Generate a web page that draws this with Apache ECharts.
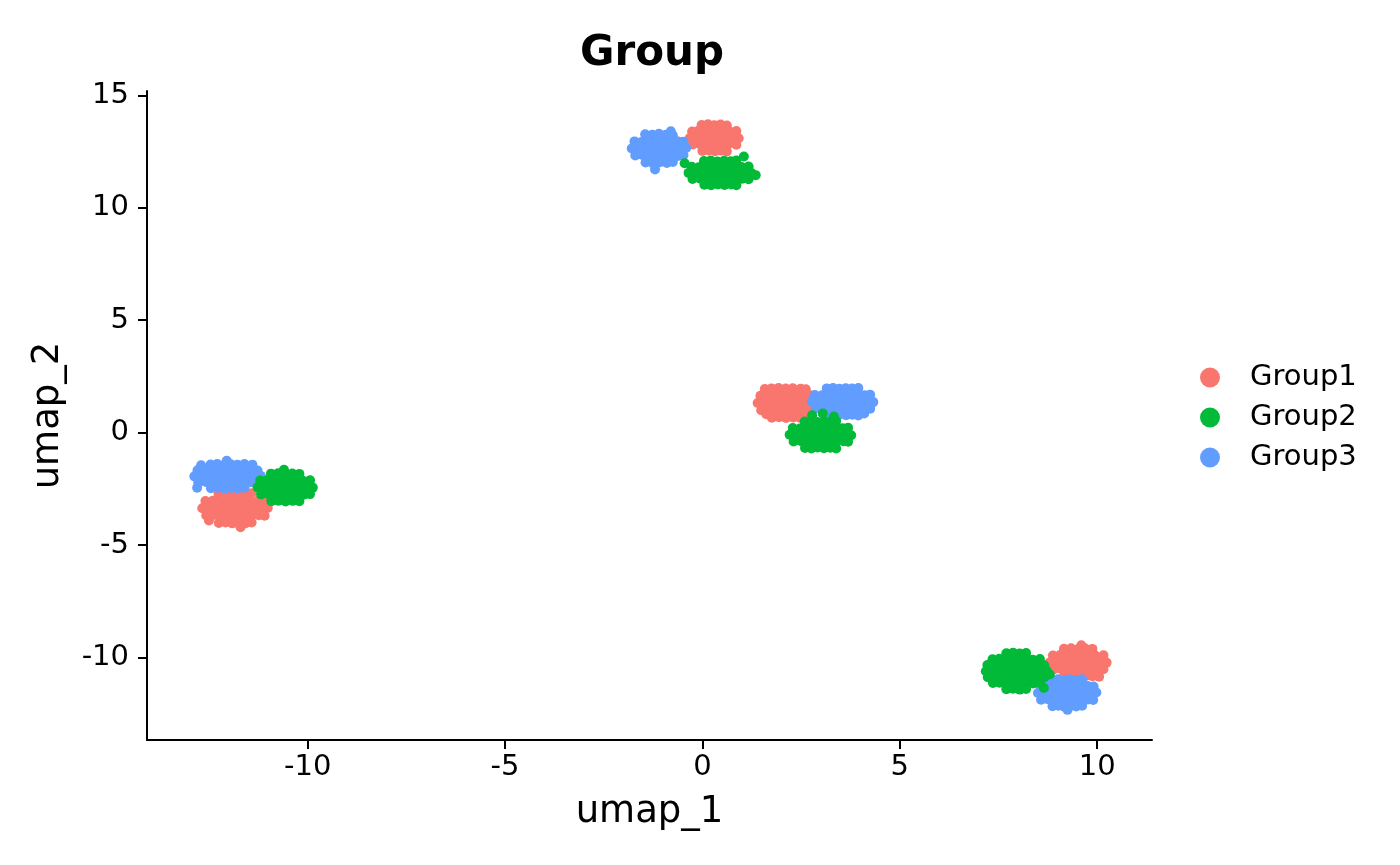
<!DOCTYPE html>
<html>
<head>
<meta charset="utf-8">
<script src="https://cdn.jsdelivr.net/npm/echarts@6.0.0/dist/echarts.min.js"></script>
<style>
  html, body { margin: 0; padding: 0; background: #fff; }
  #umap { width: 1400px; height: 865px; }
</style>
</head>
<body>
<div id="umap"></div>
<script>
// group names + ggplot default hues
const groupNames = ["Group1", "Group2", "Group3"];
const groupColors = ["#F8766D", "#00BA38", "#619CFF"];

// tick labels on both axes
const xTicks = [-10, -5, 0, 5, 10];
const yTicks = [-10, -5, 0, 5, 10, 15];

// cells, one array per cluster
const g1Top = [
  [-0.02,13.68],[0.14,13.71],[0.30,13.67],[0.46,13.70],[0.62,13.66],
  [-0.26,13.39],[-0.10,13.42],[0.06,13.38],[0.22,13.41],[0.38,13.37],[0.54,13.40],[0.70,13.38],[0.86,13.41],
  [-0.32,13.10],[-0.14,13.08],[0.04,13.12],[0.22,13.09],[0.40,13.11],[0.58,13.08],[0.76,13.12],[0.92,13.09],
  [-0.24,12.81],[-0.06,12.83],[0.12,12.79],[0.30,12.82],[0.48,12.80],[0.66,12.83],[0.86,12.80],
  [0.00,12.52],[0.16,12.55],[0.32,12.51],[0.48,12.54],[0.62,12.50],
  [-0.55,12.70],[-0.62,12.95]
];
const g1Mid = [
  [1.58,1.94],[1.75,1.97],[1.93,1.99],[2.11,1.96],[2.29,1.98],[2.49,1.95],[2.62,1.93],
  [1.47,1.64],[1.65,1.66],[1.83,1.62],[2.01,1.65],[2.19,1.63],[2.37,1.66],[2.55,1.62],[2.77,1.65],
  [1.40,1.32],[1.58,1.30],[1.76,1.34],[1.94,1.31],[2.12,1.33],[2.30,1.30],[2.48,1.34],[2.66,1.31],[2.84,1.33],
  [1.49,1.00],[1.67,1.02],[1.85,0.98],[2.03,1.01],[2.21,0.99],[2.39,1.02],[2.57,0.98],[2.77,1.01],
  [1.76,0.67],[1.94,0.69],[2.12,0.65],[2.30,0.68],[2.48,0.66],
  [1.62,0.82],[2.62,0.80]
];
const g1Left = [
  [-12.26,-2.71],[-12.09,-2.69],[-11.92,-2.73],[-11.75,-2.70],[-11.58,-2.72],[-11.42,-2.69],
  [-12.59,-3.04],[-12.40,-3.02],[-12.21,-3.06],[-12.02,-3.03],[-11.83,-3.05],[-11.64,-3.02],[-11.45,-3.06],[-11.26,-3.03],[-11.09,-3.05],
  [-12.67,-3.36],[-12.48,-3.34],[-12.29,-3.38],[-12.10,-3.35],[-11.91,-3.37],[-11.72,-3.34],[-11.53,-3.38],[-11.34,-3.35],[-11.15,-3.37],[-11.01,-3.34],
  [-12.57,-3.68],[-12.38,-3.66],[-12.19,-3.70],[-12.00,-3.67],[-11.81,-3.69],[-11.62,-3.66],[-11.43,-3.70],[-11.24,-3.67],[-11.09,-3.69],
  [-12.25,-4.01],[-12.08,-3.99],[-11.91,-4.03],[-11.74,-4.00],[-11.57,-4.02],[-11.42,-3.99],
  [-11.70,-4.20],[-12.50,-3.90]
];
const g1Bottom = [
  [9.16,-9.60],[9.34,-9.58],[9.52,-9.62],[9.70,-9.59],[9.88,-9.61],
  [8.88,-9.90],[9.06,-9.88],[9.24,-9.92],[9.42,-9.89],[9.60,-9.91],[9.78,-9.88],[9.96,-9.92],[10.16,-9.89],
  [8.80,-10.21],[8.98,-10.19],[9.16,-10.23],[9.34,-10.20],[9.52,-10.22],[9.70,-10.19],[9.88,-10.23],[10.06,-10.20],[10.24,-10.22],
  [8.90,-10.52],[9.08,-10.50],[9.26,-10.54],[9.44,-10.51],[9.62,-10.53],[9.80,-10.50],[9.98,-10.54],[10.16,-10.51],
  [9.17,-10.82],[9.35,-10.80],[9.53,-10.84],[9.71,-10.81],[9.88,-10.83],
  [9.60,-9.45],[10.05,-10.85]
];

const g2Top = [
  [0.04,12.08],[0.21,12.10],[0.38,12.06],[0.55,12.09],[0.72,12.07],[0.86,12.10],
  [-0.27,11.82],[-0.09,11.80],[0.09,11.84],[0.27,11.81],[0.45,11.83],[0.63,11.80],[0.81,11.84],[0.99,11.81],[1.17,11.83],
  [-0.35,11.55],[-0.17,11.53],[0.01,11.57],[0.19,11.54],[0.37,11.56],[0.55,11.53],[0.73,11.57],[0.91,11.54],[1.09,11.56],[1.25,11.53],
  [-0.25,11.28],[-0.07,11.30],[0.11,11.26],[0.29,11.29],[0.47,11.27],[0.65,11.30],[0.83,11.26],[1.01,11.29],[1.17,11.27],
  [0.05,11.02],[0.22,11.00],[0.39,11.04],[0.56,11.01],[0.73,11.03],[0.86,11.00],
  [1.35,11.45],[1.05,12.28],[-0.45,11.98]
];
const g2Mid = [
  [2.59,0.50],[2.75,0.52],[2.91,0.48],[3.07,0.51],[3.23,0.49],[3.39,0.52],
  [2.29,0.21],[2.47,0.19],[2.65,0.23],[2.83,0.20],[3.01,0.22],[3.19,0.19],[3.37,0.23],[3.55,0.20],[3.69,0.22],
  [2.21,-0.09],[2.39,-0.11],[2.57,-0.07],[2.75,-0.10],[2.93,-0.08],[3.11,-0.11],[3.29,-0.07],[3.47,-0.10],[3.65,-0.08],[3.77,-0.11],
  [2.31,-0.39],[2.49,-0.37],[2.67,-0.41],[2.85,-0.38],[3.03,-0.40],[3.21,-0.37],[3.39,-0.41],[3.57,-0.38],[3.69,-0.40],
  [2.60,-0.68],[2.76,-0.70],[2.92,-0.66],[3.08,-0.69],[3.24,-0.67],[3.39,-0.70],
  [2.78,0.78],[3.05,0.85],[3.33,0.72]
];
const g2Left = [
  [-10.93,-1.82],[-10.75,-1.80],[-10.57,-1.84],[-10.39,-1.81],[-10.21,-1.83],
  [-11.20,-2.12],[-11.02,-2.10],[-10.84,-2.14],[-10.66,-2.11],[-10.48,-2.13],[-10.30,-2.10],[-10.12,-2.14],[-9.94,-2.11],
  [-11.27,-2.43],[-11.09,-2.41],[-10.91,-2.45],[-10.73,-2.42],[-10.55,-2.44],[-10.37,-2.41],[-10.19,-2.45],[-10.01,-2.42],[-9.87,-2.44],
  [-11.18,-2.74],[-11.00,-2.72],[-10.82,-2.76],[-10.64,-2.73],[-10.46,-2.75],[-10.28,-2.72],[-10.10,-2.76],[-9.94,-2.73],
  [-10.92,-3.04],[-10.74,-3.02],[-10.56,-3.06],[-10.38,-3.03],[-10.21,-3.05],
  [-10.60,-1.65]
];
const g2Bottom = [
  [7.70,-9.80],[7.87,-9.78],[8.04,-9.82],[8.20,-9.79],
  [7.35,-10.07],[7.52,-10.05],[7.69,-10.09],[7.86,-10.06],[8.03,-10.08],[8.20,-10.05],[8.37,-10.09],[8.55,-10.06],
  [7.22,-10.33],[7.40,-10.31],[7.58,-10.35],[7.76,-10.32],[7.94,-10.34],[8.12,-10.31],[8.30,-10.35],[8.48,-10.32],[8.66,-10.34],
  [7.18,-10.60],[7.36,-10.58],[7.54,-10.62],[7.72,-10.59],[7.90,-10.61],[8.08,-10.58],[8.26,-10.62],[8.44,-10.59],[8.62,-10.61],[8.72,-10.58],
  [7.23,-10.87],[7.41,-10.85],[7.59,-10.89],[7.77,-10.86],[7.95,-10.88],[8.13,-10.85],[8.31,-10.89],[8.49,-10.86],[8.66,-10.88],
  [7.36,-11.13],[7.53,-11.11],[7.70,-11.15],[7.87,-11.12],[8.04,-11.14],[8.21,-11.11],[8.38,-11.15],[8.54,-11.12],
  [7.70,-11.40],[7.87,-11.38],[8.04,-11.42],[8.20,-11.39],
  [8.80,-10.75],[8.65,-11.35]
];

const g3Top = [
  [-1.45,13.27],[-1.27,13.24],[-1.10,13.29],[-0.92,13.25],[-0.75,13.22],
  [-1.72,12.95],[-1.54,12.92],[-1.36,12.97],[-1.18,12.93],[-1.00,12.96],[-0.82,12.91],[-0.64,12.95],[-0.48,12.93],
  [-1.79,12.63],[-1.61,12.60],[-1.43,12.66],[-1.25,12.62],[-1.07,12.64],[-0.89,12.61],[-0.71,12.65],[-0.53,12.62],[-0.41,12.66],
  [-1.70,12.32],[-1.52,12.35],[-1.34,12.30],[-1.16,12.33],[-0.98,12.31],[-0.80,12.34],[-0.62,12.30],[-0.48,12.33],
  [-1.44,12.01],[-1.26,11.98],[-1.08,12.02],[-0.90,11.99],[-0.75,12.03],
  [-1.20,11.70],[-0.80,13.40]
];
const g3Mid = [
  [3.15,1.97],[3.31,1.99],[3.47,1.95],[3.63,1.98],[3.79,1.96],[3.95,1.99],
  [2.85,1.68],[3.03,1.66],[3.21,1.70],[3.39,1.67],[3.57,1.69],[3.75,1.66],[3.93,1.70],[4.11,1.67],[4.25,1.69],
  [2.77,1.38],[2.95,1.36],[3.13,1.40],[3.31,1.37],[3.49,1.39],[3.67,1.36],[3.85,1.40],[4.03,1.37],[4.21,1.39],[4.33,1.36],
  [2.87,1.08],[3.05,1.10],[3.23,1.06],[3.41,1.09],[3.59,1.07],[3.77,1.10],[3.95,1.06],[4.13,1.09],[4.25,1.07],
  [3.16,0.79],[3.32,0.77],[3.48,0.81],[3.64,0.78],[3.80,0.80],[3.95,0.77],
  [4.10,0.85]
];
const g3Left = [
  [-12.70,-1.45],[-11.40,-1.42],
  [-12.46,-1.41],[-12.29,-1.39],[-12.12,-1.43],[-11.95,-1.40],[-11.78,-1.42],[-11.60,-1.39],
  [-12.79,-1.67],[-12.60,-1.65],[-12.41,-1.69],[-12.22,-1.66],[-12.03,-1.68],[-11.84,-1.65],[-11.65,-1.69],[-11.46,-1.66],[-11.27,-1.68],
  [-12.87,-1.94],[-12.68,-1.92],[-12.49,-1.96],[-12.30,-1.93],[-12.11,-1.95],[-11.92,-1.92],[-11.73,-1.96],[-11.54,-1.93],[-11.35,-1.95],[-11.19,-1.92],
  [-12.77,-2.21],[-12.58,-2.19],[-12.39,-2.23],[-12.20,-2.20],[-12.01,-2.22],[-11.82,-2.19],[-11.63,-2.23],[-11.44,-2.20],[-11.27,-2.22],
  [-12.45,-2.47],[-12.28,-2.45],[-12.11,-2.49],[-11.94,-2.46],[-11.77,-2.48],[-11.60,-2.45],
  [-12.05,-1.25],[-12.80,-2.45]
];
const g3Bottom = [
  [8.86,-10.98],[9.01,-10.96],[9.16,-11.00],[9.31,-10.97],[9.46,-10.99],[9.62,-10.96],
  [8.57,-11.27],[8.74,-11.25],[8.91,-11.29],[9.08,-11.26],[9.25,-11.28],[9.42,-11.25],[9.59,-11.29],[9.76,-11.26],[9.91,-11.28],
  [8.50,-11.57],[8.67,-11.55],[8.84,-11.59],[9.01,-11.56],[9.18,-11.58],[9.35,-11.55],[9.52,-11.59],[9.69,-11.56],[9.86,-11.58],[9.98,-11.55],
  [8.58,-11.87],[8.75,-11.85],[8.92,-11.89],[9.09,-11.86],[9.26,-11.88],[9.43,-11.85],[9.60,-11.89],[9.77,-11.86],[9.90,-11.88],
  [8.87,-12.16],[9.02,-12.14],[9.17,-12.18],[9.32,-12.15],[9.47,-12.17],[9.62,-12.14],
  [9.25,-12.32]
];

const groupPoints = [
  g1Top.concat(g1Mid, g1Left, g1Bottom),
  g2Top.concat(g2Mid, g2Left, g2Bottom),
  g3Top.concat(g3Mid, g3Left, g3Bottom)
];

const fontFamily = "DejaVu Sans";

const axisCommon = {
  nameLocation: "middle",
  nameMoveOverlap: false,
  nameTextStyle: { fontSize: 37, color: "#000", fontFamily: fontFamily },
  splitLine: { show: false },
  axisLine: { show: true, onZero: false, lineStyle: { color: "#000", width: 2 } },
  axisTick: { show: true, inside: false, length: 9, lineStyle: { color: "#000", width: 2 } },
  axisLabel: { fontSize: 29, color: "#000", fontFamily: fontFamily }
};

// draw order: red, blue, then green on top
const drawOrder = [0, 2, 1];

const option = {
  animation: false,
  backgroundColor: "#fff",
  title: {
    text: "Group",
    left: 575,
    top: 28,
    textStyle: { fontSize: 42, fontWeight: "bold", color: "#000", fontFamily: fontFamily }
  },
  legend: {
    orient: "vertical",
    left: 1195,
    top: 358,
    itemWidth: 20,
    itemHeight: 20,
    itemGap: 11,
    icon: "circle",
    data: groupNames,
    textStyle: { fontSize: 29, lineHeight: 29, color: "#000", fontFamily: fontFamily, padding: [0, 0, 0, 25] }
  },
  grid: { left: 147, right: 248, top: 91, bottom: 125 },
  xAxis: Object.assign({}, axisCommon, {
    type: "value",
    name: "umap_1",
    nameGap: 54,
    min: -14.07,
    max: 11.39,
    axisTick: Object.assign({}, axisCommon.axisTick, { customValues: xTicks }),
    axisLabel: Object.assign({}, axisCommon.axisLabel, { customValues: xTicks, margin: 13 })
  }),
  yAxis: Object.assign({}, axisCommon, {
    type: "value",
    name: "umap_2",
    nameGap: 80,
    min: -13.66,
    max: 15.19,
    axisTick: Object.assign({}, axisCommon.axisTick, { customValues: yTicks }),
    axisLabel: Object.assign({}, axisCommon.axisLabel, { customValues: yTicks, margin: 18 })
  }),
  series: drawOrder.map((gi) => ({
    name: groupNames[gi],
    type: "scatter",
    data: groupPoints[gi],
    symbol: "circle",
    symbolSize: 10,
    itemStyle: { color: groupColors[gi], opacity: 1 },
    emphasis: { disabled: true }
  }))
};

const chart = echarts.init(document.getElementById("umap"));
chart.setOption(option);
window.addEventListener("resize", () => chart.resize());
</script>
</body>
</html>
